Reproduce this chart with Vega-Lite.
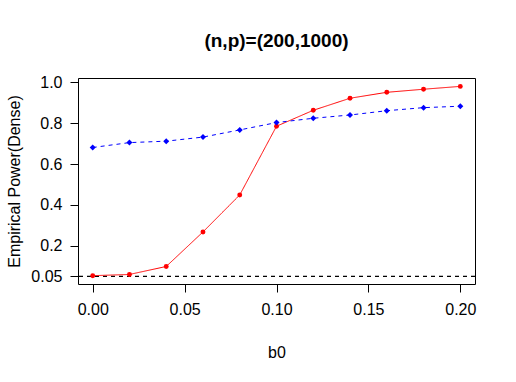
{
  "$schema": "https://vega.github.io/schema/vega-lite/v6.json",
  "width": 397,
  "height": 206,
  "autosize": {"type": "none"},
  "padding": {"left": 78, "top": 78, "right": 41, "bottom": 98},
  "background": "white",
  "title": {"text": "(n,p)=(200,1000)", "font": "Liberation Sans", "fontSize": 19, "fontWeight": "bold", "color": "black", "anchor": "middle", "offset": 23},
  "config": {
    "view": {"stroke": "black", "strokeWidth": 1},
    "axis": {"domain": false, "grid": false, "tickColor": "black", "tickSize": 8, "labelFont": "Liberation Sans", "labelFontSize": 16, "labelColor": "black", "titleFont": "Liberation Sans", "titleFontSize": 16, "titleFontWeight": "normal", "titleColor": "black"}
  },
  "data": {"values": [
    {"b0": 0.00, "power": 0.054, "series": "red"},
    {"b0": 0.02, "power": 0.060, "series": "red"},
    {"b0": 0.04, "power": 0.099, "series": "red"},
    {"b0": 0.06, "power": 0.268, "series": "red"},
    {"b0": 0.08, "power": 0.449, "series": "red"},
    {"b0": 0.10, "power": 0.785, "series": "red"},
    {"b0": 0.12, "power": 0.863, "series": "red"},
    {"b0": 0.14, "power": 0.922, "series": "red"},
    {"b0": 0.16, "power": 0.951, "series": "red"},
    {"b0": 0.18, "power": 0.966, "series": "red"},
    {"b0": 0.20, "power": 0.980, "series": "red"},
    {"b0": 0.00, "power": 0.681, "series": "blue"},
    {"b0": 0.02, "power": 0.705, "series": "blue"},
    {"b0": 0.04, "power": 0.712, "series": "blue"},
    {"b0": 0.06, "power": 0.732, "series": "blue"},
    {"b0": 0.08, "power": 0.767, "series": "blue"},
    {"b0": 0.10, "power": 0.803, "series": "blue"},
    {"b0": 0.12, "power": 0.824, "series": "blue"},
    {"b0": 0.14, "power": 0.840, "series": "blue"},
    {"b0": 0.16, "power": 0.861, "series": "blue"},
    {"b0": 0.18, "power": 0.876, "series": "blue"},
    {"b0": 0.20, "power": 0.883, "series": "blue"}
  ]},
  "encoding": {
    "x": {"field": "b0", "type": "quantitative", "scale": {"domain": [-0.008, 0.208], "nice": false, "zero": false},
      "axis": {"title": "b0", "values": [0, 0.05, 0.1, 0.15, 0.2], "format": ".2f", "labelPadding": 9, "titleY": 68, "titleBaseline": "middle"}},
    "y": {"field": "power", "type": "quantitative", "scale": {"domain": [0.0133, 1.021], "nice": false, "zero": false},
      "axis": {"title": "Empirical Power(Dense)", "values": [0.05, 0.2, 0.4, 0.6, 0.8, 1.0], "labelExpr": "datum.value == 0.05 ? '0.05' : format(datum.value, '.1f')", "labelPadding": 8, "titleX": -64, "titleY": 103, "titleBaseline": "middle"}}
  },
  "layer": [
    {"mark": {"type": "rule", "color": "black", "strokeWidth": 1, "strokeDash": [4, 4]},
     "encoding": {"y": {"datum": 0.05, "type": "quantitative"}, "x": null}},
    {"mark": {"type": "line", "strokeWidth": 1},
     "encoding": {
       "color": {"field": "series", "type": "nominal", "scale": {"domain": ["red", "blue"], "range": ["#FF0000", "#0000FF"]}, "legend": null},
       "strokeDash": {"field": "series", "type": "nominal", "scale": {"domain": ["red", "blue"], "range": [[1, 0], [4, 4]]}, "legend": null}
     }},
    {"mark": {"type": "point", "filled": true, "opacity": 1},
     "encoding": {
       "color": {"field": "series", "type": "nominal", "scale": {"domain": ["red", "blue"], "range": ["#FF0000", "#0000FF"]}, "legend": null},
       "shape": {"field": "series", "type": "nominal", "scale": {"domain": ["red", "blue"], "range": ["circle", "diamond"]}, "legend": null},
       "size": {"field": "series", "type": "nominal", "scale": {"domain": ["red", "blue"], "range": [24, 36]}, "legend": null}
     }}
  ]
}
